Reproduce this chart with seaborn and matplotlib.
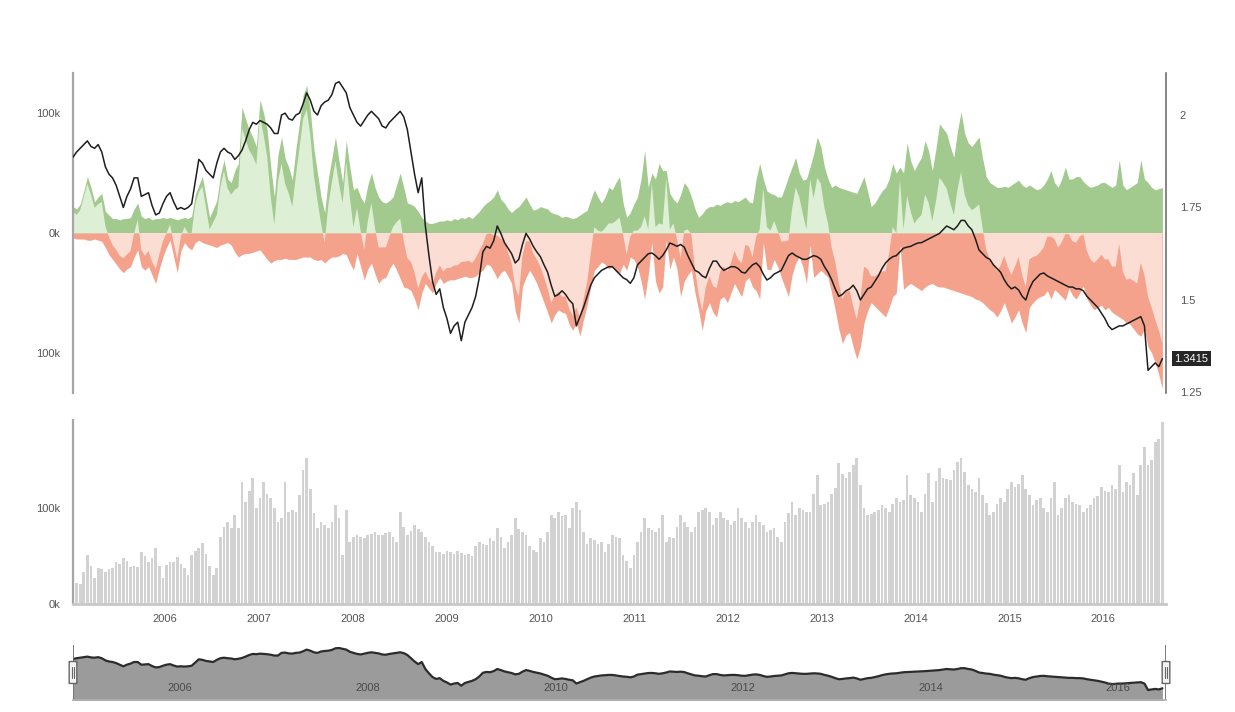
import numpy as np
import pandas as pd
import matplotlib
matplotlib.use('Agg')
import matplotlib.pyplot as plt
import matplotlib.dates as mdates
from matplotlib.patches import FancyBboxPatch
import seaborn as sns

sns.set_theme(style='white')
plt.rcParams['font.family'] = ['Liberation Sans', 'DejaVu Sans']

# Lecturas cada 2 semanas desde ene-2005 (una fila por año)
price = [
    1.886, 1.90, 1.91, 1.92, 1.93, 1.915, 1.91, 1.92, 1.90, 1.86, 1.84, 1.83, 1.81, 1.78, 1.75, 1.78, 1.80, 1.83, 1.83, 1.78, 1.785, 1.79, 1.755, 1.73, 1.735, 1.76,
    1.78, 1.79, 1.765, 1.745, 1.75, 1.745, 1.75, 1.76, 1.82, 1.88, 1.87, 1.85, 1.84, 1.83, 1.87, 1.90, 1.91, 1.90, 1.895, 1.88, 1.89, 1.905, 1.93, 1.96, 1.98, 1.975,
    1.985, 1.98, 1.975, 1.965, 1.95, 1.95, 2.0, 2.005, 1.99, 1.986, 2.0, 2.005, 2.03, 2.06, 2.04, 2.01, 2.0, 2.025, 2.035, 2.04, 2.055, 2.085, 2.09, 2.075, 2.06, 2.02,
    2.0, 1.98, 1.97, 1.985, 2.0, 2.01, 2.0, 1.99, 1.97, 1.965, 1.98, 1.99, 2.0, 2.01, 1.995, 1.96, 1.90, 1.84, 1.79, 1.83, 1.70, 1.62, 1.55, 1.515, 1.53, 1.48,
    1.45, 1.41, 1.43, 1.44, 1.39, 1.44, 1.46, 1.48, 1.51, 1.56, 1.63, 1.645, 1.64, 1.66, 1.70, 1.68, 1.655, 1.64, 1.625, 1.60, 1.61, 1.65, 1.68, 1.665, 1.645, 1.63,
    1.617, 1.595, 1.575, 1.54, 1.51, 1.515, 1.525, 1.515, 1.50, 1.49, 1.43, 1.455, 1.48, 1.51, 1.54, 1.56, 1.57, 1.58, 1.585, 1.59, 1.59, 1.58, 1.57, 1.56, 1.555, 1.545,
    1.56, 1.595, 1.605, 1.615, 1.625, 1.627, 1.62, 1.61, 1.62, 1.635, 1.654, 1.65, 1.645, 1.65, 1.643, 1.62, 1.60, 1.58, 1.575, 1.565, 1.56, 1.585, 1.605, 1.605, 1.59, 1.58,
    1.585, 1.59, 1.59, 1.585, 1.575, 1.573, 1.585, 1.595, 1.60, 1.59, 1.57, 1.554, 1.56, 1.57, 1.575, 1.58, 1.60, 1.62, 1.627, 1.62, 1.615, 1.61, 1.61, 1.615, 1.62, 1.617,
    1.61, 1.59, 1.575, 1.555, 1.53, 1.51, 1.515, 1.525, 1.53, 1.54, 1.525, 1.50, 1.515, 1.53, 1.535, 1.55, 1.565, 1.585, 1.60, 1.61, 1.617, 1.62, 1.63, 1.64, 1.643, 1.645,
    1.65, 1.654, 1.655, 1.66, 1.665, 1.67, 1.675, 1.68, 1.69, 1.70, 1.695, 1.69, 1.70, 1.715, 1.715, 1.70, 1.69, 1.665, 1.635, 1.625, 1.615, 1.61, 1.595, 1.585, 1.575, 1.555,
    1.54, 1.53, 1.535, 1.527, 1.51, 1.50, 1.53, 1.55, 1.56, 1.57, 1.573, 1.565, 1.56, 1.555, 1.55, 1.545, 1.54, 1.535, 1.535, 1.53, 1.53, 1.525, 1.51, 1.50, 1.49, 1.48,
    1.465, 1.45, 1.43, 1.42, 1.425, 1.43, 1.43, 1.435, 1.44, 1.445, 1.45, 1.455, 1.43, 1.31, 1.32, 1.33, 1.32, 1.3415,
]

# posiciones largas y cortas (miles de contratos)
long_pos = [
    22, 20, 24, 35, 47, 38, 26, 30, 33, 18, 15, 12, 12, 11, 12, 12, 13, 20, 25, 14, 12, 13, 11, 12, 12, 13,
    12, 13, 12, 11, 12, 13, 12, 14, 32, 40, 47, 30, 13, 20, 27, 48, 61, 45, 42, 52, 58, 105, 95, 86, 80, 72,
    111, 100, 86, 55, 30, 65, 80, 62, 55, 44, 70, 92, 115, 123, 102, 70, 50, 30, 17, 45, 62, 80, 60, 42, 77, 55,
    36, 38, 30, 25, 40, 50, 38, 30, 26, 25, 27, 30, 40, 50, 38, 25, 24, 22, 18, 13, 10, 8, 8, 9, 10, 10,
    11, 10, 12, 11, 13, 12, 14, 12, 15, 18, 22, 25, 27, 30, 36, 28, 25, 20, 17, 20, 22, 26, 30, 24, 19, 20,
    22, 21, 20, 17, 16, 15, 13, 14, 13, 12, 13, 15, 17, 19, 28, 36, 30, 25, 30, 38, 36, 42, 47, 25, 13, 17,
    24, 30, 45, 69, 38, 50, 45, 58, 52, 52, 33, 28, 25, 32, 42, 38, 30, 20, 13, 16, 20, 22, 22, 24, 23, 25,
    26, 25, 27, 26, 28, 30, 26, 25, 45, 58, 45, 35, 33, 32, 30, 30, 38, 47, 55, 63, 50, 44, 45, 55, 66, 80,
    72, 55, 45, 38, 40, 38, 37, 36, 35, 34, 33, 40, 47, 35, 22, 25, 30, 35, 38, 45, 58, 50, 55, 50, 75, 60,
    52, 58, 63, 77, 68, 52, 70, 91, 87, 83, 72, 63, 85, 101, 83, 75, 72, 76, 80, 62, 47, 42, 40, 38, 38, 39,
    38, 40, 42, 44, 40, 38, 40, 38, 36, 37, 40, 45, 52, 42, 38, 45, 55, 45, 45, 47, 47, 43, 40, 38, 39, 40,
    42, 42, 40, 38, 40, 61, 40, 36, 38, 40, 42, 61, 45, 42, 38, 36, 37, 38,
]

short_pos = [
    4, 5, 5, 5, 6, 6, 5, 6, 7, 12, 18, 22, 26, 30, 33, 30, 28, 20, 14, 28, 31, 28, 35, 42, 30, 20,
    12, 6, 20, 33, 15, 8, 12, 14, 8, 6, 8, 9, 10, 11, 12, 10, 9, 8, 10, 16, 20, 18, 17, 17, 16, 15,
    14, 18, 22, 25, 23, 22, 22, 21, 22, 22, 22, 21, 20, 20, 20, 22, 23, 22, 25, 22, 20, 20, 19, 17, 18, 25,
    31, 17, 28, 39, 30, 25, 34, 42, 38, 37, 30, 25, 31, 38, 45, 46, 48, 55, 64, 50, 42, 46, 50, 42, 37, 42,
    40, 39, 39, 38, 37, 36, 37, 37, 36, 33, 31, 26, 27, 32, 38, 33, 31, 36, 42, 65, 75, 45, 37, 31, 36, 42,
    50, 58, 66, 75, 68, 64, 66, 67, 76, 81, 75, 86, 72, 60, 45, 31, 28, 24, 26, 30, 28, 32, 34, 26, 31, 20,
    22, 28, 40, 55, 35, 8, 40, 50, 45, 6, 30, 20, 30, 53, 40, 35, 31, 50, 64, 81, 65, 58, 66, 70, 55, 53,
    58, 50, 42, 48, 53, 40, 37, 45, 48, 55, 8, 30, 31, 22, 28, 37, 45, 53, 35, 25, 20, 28, 42, 10, 37, 34,
    31, 34, 37, 50, 64, 80, 92, 85, 83, 95, 105, 95, 75, 65, 58, 61, 64, 67, 70, 62, 53, 50, 10, 47, 44, 42,
    44, 46, 48, 45, 43, 42, 44, 45, 45, 46, 47, 48, 49, 50, 51, 52, 53, 55, 56, 58, 61, 64, 66, 70, 65, 58,
    66, 75, 70, 64, 75, 83, 62, 58, 55, 53, 52, 48, 55, 47, 50, 53, 56, 46, 52, 55, 50, 44, 55, 60, 64, 62,
    60, 64, 62, 66, 68, 70, 72, 75, 76, 80, 84, 86, 80, 95, 100, 108, 118, 130,
]

# open interest (miles)
open_int = [
    23, 22, 21, 33, 51, 40, 27, 38, 36, 33, 36, 38, 44, 42, 48, 45, 39, 40, 39, 54, 50, 44, 48, 58, 40, 27,
    41, 44, 44, 49, 42, 38, 30, 51, 55, 58, 64, 52, 40, 30, 38, 70, 80, 85, 79, 93, 79, 127, 106, 118, 131, 100,
    110, 127, 115, 110, 100, 85, 90, 127, 96, 98, 96, 114, 140, 152, 120, 95, 79, 85, 82, 79, 85, 103, 90, 51, 98, 65,
    70, 72, 70, 69, 72, 73, 75, 72, 72, 74, 75, 70, 65, 96, 80, 72, 76, 82, 78, 75, 70, 65, 60, 54, 54, 52,
    55, 54, 52, 55, 53, 51, 52, 50, 60, 65, 63, 61, 69, 66, 79, 70, 58, 65, 72, 90, 78, 75, 72, 60, 56, 54,
    69, 65, 75, 93, 90, 96, 92, 93, 79, 100, 106, 98, 75, 62, 69, 67, 62, 65, 54, 62, 72, 70, 69, 51, 45, 38,
    51, 65, 75, 90, 79, 77, 75, 79, 93, 65, 70, 69, 80, 93, 85, 80, 75, 80, 96, 98, 100, 96, 82, 90, 96, 90,
    88, 82, 86, 100, 90, 85, 79, 85, 93, 85, 82, 75, 77, 79, 70, 65, 85, 95, 106, 93, 100, 98, 96, 96, 115, 134,
    103, 104, 106, 115, 121, 147, 135, 131, 138, 145, 152, 124, 100, 93, 94, 96, 98, 103, 100, 96, 104, 110, 106, 108, 134, 114,
    110, 106, 96, 115, 136, 106, 128, 142, 131, 130, 129, 140, 148, 152, 138, 124, 120, 117, 131, 114, 105, 93, 96, 104, 110, 106,
    120, 127, 122, 125, 134, 120, 114, 103, 108, 110, 100, 96, 110, 127, 93, 100, 110, 114, 106, 104, 103, 96, 100, 103, 110, 112,
    122, 118, 117, 124, 120, 145, 117, 127, 124, 136, 114, 145, 164, 145, 150, 169, 172, 190,
]

years_main = [2006, 2007, 2008, 2009, 2010, 2011, 2012, 2013, 2014, 2015, 2016]
years_nav = [2006, 2008, 2010, 2012, 2014, 2016]

dates = pd.date_range('2005-01-07', periods=len(price), freq='14D')
df = pd.DataFrame({'date': dates, 'price': price, 'long': long_pos,
                   'short': short_pos, 'oi': open_int})
df['net'] = df['long'] - df['short']

x_lo = dates[0]
x_hi = dates[-1] + pd.Timedelta(days=14)

GREEN = '#a2c98e'
GREEN_LT = '#ddefd4'
RED = '#f5a28d'
RED_LT = '#fcddd4'
AXC = '#a6a6a6'
TXT = '#555555'

fig = plt.figure(figsize=(12.35, 7.12), dpi=100)
fig.patch.set_facecolor('white')

L, W = 73 / 1235, (1166 - 73) / 1235
ax = fig.add_axes([L, 1 - 393 / 712, W, 320 / 712])
axb = fig.add_axes([L, 1 - 604 / 712, W, 184 / 712])
axn = fig.add_axes([L, 1 - 700 / 712, W, 55 / 712])

# --- panel superior: largos / cortos / neto
ax.fill_between(df['date'], 0, df['long'], color=GREEN, lw=0)
ax.fill_between(df['date'], 0, -df['short'], color=RED, lw=0)
ax.fill_between(df['date'], 0, df['net'], where=df['net'] > 0,
                interpolate=True, color=GREEN_LT, lw=0)
ax.fill_between(df['date'], 0, df['net'], where=df['net'] < 0,
                interpolate=True, color=RED_LT, lw=0)
ax.set_xlim(x_lo, x_hi)
ax.set_ylim(-133.3, 133.3)
ax.set_yticks([-100, 0, 100])
ax.set_yticklabels(['100k', '0k', '100k'])
ax.set_xticks([])

ax2 = ax.twinx()
sns.lineplot(data=df, x='date', y='price', ax=ax2, color='#1e1e1e', lw=1.1)
ax2.set_ylim(1.2486, 2.1135)
ax2.set_yticks([1.25, 1.5, 1.75, 2])
ax2.set_yticklabels(['1.25', '1.5', '1.75', '2'])
ax2.set_xlim(x_lo, x_hi)
ax2.set_xlabel('')
ax2.set_ylabel('')
ax2.set_xticks([])
ax2.annotate(f'{price[-1]}', xy=(1, price[-1]), xycoords=('axes fraction', 'data'),
             xytext=(6, 0), textcoords='offset points', ha='left', va='center',
             fontsize=8, color='white',
             bbox=dict(boxstyle='square,pad=0.2', fc='#262626', ec='none'))

for a in (ax, ax2):
    for s in a.spines.values():
        s.set_visible(False)
ax.spines['left'].set_visible(True)
ax.spines['left'].set_color(AXC)
ax.spines['left'].set_linewidth(1.6)
ax2.spines['right'].set_visible(True)
ax2.spines['right'].set_color('#707070')
ax2.spines['right'].set_linewidth(1.2)
ax.tick_params(axis='y', length=0, pad=9, labelsize=8, labelcolor=TXT)
ax2.tick_params(axis='y', length=0, pad=10, labelsize=8, labelcolor=TXT)

# --- panel de barras: open interest
axb.bar(df['date'], df['oi'], width=10.5, color='#d2d2d2', lw=0)
axb.set_xlim(x_lo, x_hi)
axb.set_ylim(0, 191.7)
axb.set_yticks([0, 100])
axb.set_yticklabels(['0k', '100k'])
axb.set_xticks([pd.Timestamp(f'{y}-01-01') for y in years_main])
axb.set_xticklabels([str(y) for y in years_main])
for s in axb.spines.values():
    s.set_visible(False)
axb.spines['left'].set_visible(True)
axb.spines['left'].set_color(AXC)
axb.spines['left'].set_linewidth(1.6)
axb.spines['bottom'].set_visible(True)
axb.spines['bottom'].set_color('#c8c8c8')
axb.spines['bottom'].set_linewidth(2)
axb.tick_params(axis='y', length=0, pad=9, labelsize=8, labelcolor=TXT)
axb.tick_params(axis='x', length=0, pad=7, labelsize=8, labelcolor=TXT)

# --- navegador
axn.fill_between(df['date'], 0, df['price'], color='#9b9b9b', lw=0)
sns.lineplot(data=df, x='date', y='price', ax=axn, color='#2b2b2b', lw=1.6)
axn.set_xlim(x_lo, x_hi)
axn.set_ylim(1.124, 2.146)
axn.set_xticks([])
axn.set_yticks([])
axn.set_xlabel('')
axn.set_ylabel('')
for s in axn.spines.values():
    s.set_visible(False)
axn.spines['bottom'].set_visible(True)
axn.spines['bottom'].set_color('#b0b0b0')
for y in years_nav:
    axn.text(pd.Timestamp(f'{y}-01-01') + pd.Timedelta(days=10), 0.22, str(y),
             transform=axn.get_xaxis_transform(), ha='left', va='center',
             fontsize=8, color='#4a4a4a')
for xa in (0, 1):
    axn.axvline(x_lo if xa == 0 else x_hi, color='#666666', lw=1.2)
    axn.add_patch(FancyBboxPatch((xa - 0.0035, 0.3), 0.007, 0.4,
                                 boxstyle='round,pad=0,rounding_size=0.003',
                                 transform=axn.transAxes, fc='#f2f2f2',
                                 ec='#666666', lw=1, clip_on=False, zorder=5))
    axn.plot([xa - 0.001, xa - 0.001], [0.4, 0.6], transform=axn.transAxes,
             color='#666666', lw=0.8, clip_on=False, zorder=6)
    axn.plot([xa + 0.001, xa + 0.001], [0.4, 0.6], transform=axn.transAxes,
             color='#666666', lw=0.8, clip_on=False, zorder=6)

fig.savefig('out.png', dpi=100, facecolor='white')
